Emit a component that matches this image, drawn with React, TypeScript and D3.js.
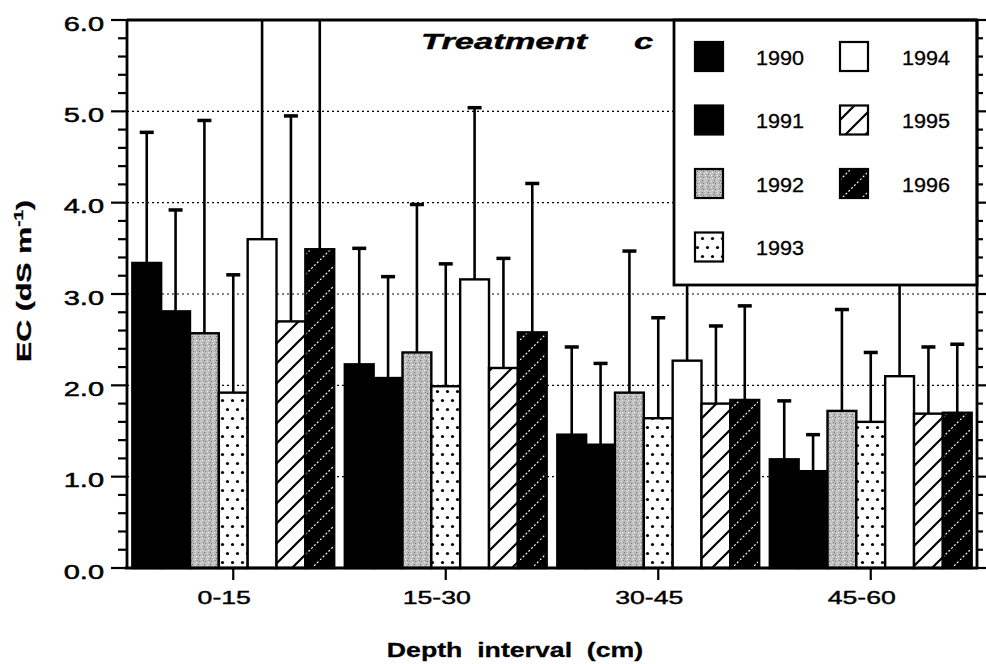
import * as d3 from 'd3';

const depths = ['0-15', '15-30', '30-45', '45-60'];
const years = ['1990', '1991', '1992', '1993', '1994', '1995', '1996'];

// mean EC (dS m-1) per depth interval, one array per year
const mean1990 = [3.34, 2.23, 1.46, 1.19];
const mean1991 = [2.81, 2.08, 1.35, 1.06];
const mean1992 = [2.57, 2.36, 1.92, 1.72];
const mean1993 = [1.92, 1.99, 1.64, 1.6];
const mean1994 = [3.6, 3.16, 2.27, 2.1];
const mean1995 = [2.7, 2.19, 1.8, 1.69];
const mean1996 = [3.49, 2.58, 1.84, 1.7];

// standard deviations (upper error bars)
const sd1990 = [1.43, 1.27, 0.96, 0.64];
const sd1991 = [1.11, 1.11, 0.89, 0.4];
const sd1992 = [2.33, 1.62, 1.55, 1.11];
const sd1993 = [1.29, 1.34, 1.1, 0.76];
const sd1994 = [2.8, 1.88, 1.5, 1.5];
const sd1995 = [2.25, 1.2, 0.85, 0.73];
const sd1996 = [2.7, 1.63, 1.03, 0.75];

const yMajor = [0, 1, 2, 3, 4, 5, 6];
const yGrid = [1, 2, 3, 4, 5];

const means = [mean1990, mean1991, mean1992, mean1993, mean1994, mean1995, mean1996];
const sds = [sd1990, sd1991, sd1992, sd1993, sd1994, sd1995, sd1996];

const fills: Record<string, string> = {
  '1990': '#000',
  '1991': '#000',
  '1992': 'url(#stipple)',
  '1993': 'url(#dots)',
  '1994': '#fff',
  '1995': 'url(#hatch)',
  '1996': 'url(#darkHatch)',
};

const W = 986;
const H = 664;
const L = 127;
const R = 977;
const T = 20;
const B = 568;
const FONT = '"Liberation Sans", Arial, Helvetica, sans-serif';

// text with a horizontal stretch, the scan's lettering is wide
function Txt({
  x,
  y,
  sx = 1,
  rotate = 0,
  anchor = 'start',
  size,
  weight = 'normal',
  italic = false,
  heavy = 0,
  children,
}: {
  x: number;
  y: number;
  sx?: number;
  rotate?: number;
  anchor?: string;
  size: number;
  weight?: string;
  italic?: boolean;
  heavy?: number;
  children: any;
}) {
  return (
    <text
      transform={`translate(${x},${y}) rotate(${rotate}) scale(${sx},1)`}
      textAnchor={anchor}
      fontSize={size}
      fontWeight={weight}
      fontStyle={italic ? 'italic' : 'normal'}
      fontFamily={FONT}
      fill="#000"
      stroke={heavy ? '#000' : 'none'}
      strokeWidth={heavy}
      style={{ whiteSpace: 'pre' }}
    >
      {children}
    </text>
  );
}

export default function App() {
  const x = d3.scaleBand<string>().domain(depths).range([L, R]).paddingInner(0.05).paddingOuter(0.025);
  const xi = d3.scaleBand<string>().domain(years).range([0, x.bandwidth()]);
  const y = d3.scaleLinear().domain([0, 6]).range([B, T]);
  const minor = d3.range(0, 6.001, 0.2).filter((v) => Math.abs(v - Math.round(v)) > 0.01);

  const rows = years.flatMap((yr, i) =>
    depths.map((d, j) => ({ yr, depth: d, mean: means[i][j], sd: sds[i][j] })),
  );

  const legendItems = years.map((yr, i) => ({
    yr,
    sx: i < 4 ? 695 : 840,
    tx: i < 4 ? 756 : 902,
    cy: 56.5 + (i % 4) * 63.5,
  }));

  return (
    <svg width={W} height={H} style={{ position: 'absolute', left: 0, top: 0, background: '#fff' }}>
      <defs>
        <pattern id="stipple" patternUnits="userSpaceOnUse" width={6} height={6}>
          <rect width={6} height={6} fill="#bcbcbc" />
          <rect x={0} y={0} width={1} height={1} fill="#6f6f6f" />
          <rect x={3} y={1} width={1} height={1} fill="#f0f0f0" />
          <rect x={1} y={3} width={1} height={1} fill="#777" />
          <rect x={4} y={4} width={1} height={1} fill="#f2f2f2" />
          <rect x={5} y={2} width={1} height={1} fill="#808080" />
          <rect x={2} y={5} width={1} height={1} fill="#e6e6e6" />
        </pattern>
        <pattern id="dots" patternUnits="userSpaceOnUse" width={10} height={18}>
          <rect width={10} height={18} fill="#fff" />
          <circle cx={2.5} cy={4.5} r={1.6} fill="#000" />
          <circle cx={7.5} cy={13.5} r={1.6} fill="#000" />
        </pattern>
        <pattern id="hatch" patternUnits="userSpaceOnUse" width={20} height={20}>
          <rect width={20} height={20} fill="#fff" />
          <path d="M0,20 L20,0 M-5,5 L5,-5 M15,25 L25,15" stroke="#000" strokeWidth={2.2} />
        </pattern>
        <pattern id="darkHatch" patternUnits="userSpaceOnUse" width={20} height={20}>
          <rect width={20} height={20} fill="#000" />
          <path
            d="M0,20 L20,0 M-5,5 L5,-5 M15,25 L25,15"
            stroke="#fff"
            strokeWidth={1.2}
            strokeDasharray="2,2"
          />
        </pattern>
        <clipPath id="plotClip">
          <rect x={L} y={T} width={R - L} height={B - T} />
        </clipPath>
      </defs>

      {/* gridlines */}
      {yGrid.map((v) => (
        <line key={v} x1={L} x2={R} y1={y(v)} y2={y(v)} stroke="#000" strokeWidth={1.2} strokeDasharray="2,3" />
      ))}

      {/* bars */}
      {rows.map((r) => {
        const bx = (x(r.depth) ?? 0) + (xi(r.yr) ?? 0);
        return (
          <rect
            key={`${r.yr}-${r.depth}`}
            x={bx}
            y={y(r.mean)}
            width={xi.bandwidth()}
            height={B - y(r.mean)}
            fill={fills[r.yr]}
            stroke="#000"
            strokeWidth={2.4}
          />
        );
      })}

      {/* error bars */}
      <g clipPath="url(#plotClip)">
        {rows.map((r) => {
          const cx = (x(r.depth) ?? 0) + (xi(r.yr) ?? 0) + xi.bandwidth() / 2;
          const top = y(r.mean + r.sd);
          return (
            <g key={`e-${r.yr}-${r.depth}`}>
              <line x1={cx} x2={cx} y1={y(r.mean)} y2={top} stroke="#000" strokeWidth={2.6} />
              <line x1={cx - 7} x2={cx + 7} y1={top} y2={top} stroke="#000" strokeWidth={3.5} />
            </g>
          );
        })}
      </g>

      {/* legend */}
      <rect x={674} y={T} width={R - 674} height={265} fill="#fff" stroke="#000" strokeWidth={2.8} />
      {legendItems.map((d) => (
        <g key={d.yr}>
          <rect x={d.sx} y={d.cy - 14.5} width={28} height={29} fill={fills[d.yr]} stroke="#000" strokeWidth={2.2} />
          <Txt x={d.tx} y={d.cy + 8} size={21} sx={1.03} heavy={0.3}>
            {d.yr}
          </Txt>
        </g>
      ))}

      {/* panel title */}
      <Txt x={421} y={49} size={23} sx={1.5} weight="bold" italic heavy={0.4}>
        Treatment
      </Txt>
      <Txt x={634} y={49} size={23} sx={1.5} weight="bold" italic heavy={0.4}>
        c
      </Txt>

      {/* frame */}
      <line x1={L} x2={R} y1={T} y2={T} stroke="#000" strokeWidth={2.8} />
      <line x1={R} x2={R} y1={T} y2={B} stroke="#000" strokeWidth={2.8} />
      <line x1={L - 2} x2={R + 1} y1={B} y2={B} stroke="#000" strokeWidth={3.2} />
      <line x1={L} x2={L} y1={T} y2={B} stroke="#000" strokeWidth={2.8} />

      {/* y ticks left and right */}
      {yMajor.map((v) => (
        <g key={`yt-${v}`}>
          <line x1={L - 16} x2={L} y1={y(v)} y2={y(v)} stroke="#000" strokeWidth={2.2} />
          <line x1={R} x2={R + 9} y1={y(v)} y2={y(v)} stroke="#000" strokeWidth={2.2} />
          <Txt x={104} y={y(v) + 10.5} size={21} sx={1.38} anchor="end" heavy={0.5}>
            {v.toFixed(1)}
          </Txt>
        </g>
      ))}
      {minor.map((v) => (
        <g key={`ym-${v.toFixed(1)}`}>
          <line x1={L - 9} x2={L} y1={y(v)} y2={y(v)} stroke="#000" strokeWidth={2.2} />
          <line x1={R} x2={R + 6} y1={y(v)} y2={y(v)} stroke="#000" strokeWidth={2.2} />
        </g>
      ))}

      {/* x ticks */}
      {depths.map((d) => {
        const cx = (x(d) ?? 0) + x.bandwidth() / 2;
        return (
          <g key={`xt-${d}`}>
            <line x1={cx} x2={cx} y1={B} y2={B + 12} stroke="#000" strokeWidth={2.2} />
            <Txt x={cx - 9} y={604} size={18} sx={1.48} anchor="middle" heavy={0.4}>
              {d}
            </Txt>
          </g>
        );
      })}

      {/* axis titles */}
      <Txt x={515} y={657} size={21} sx={1.27} weight="bold" anchor="middle" heavy={0.3}>
        {'Depth  interval  (cm)'}
      </Txt>
      <Txt x={31} y={281} size={21} sx={1.45} weight="bold" anchor="middle" rotate={-90} heavy={0.3}>
        EC (dS m
        <tspan fontSize={13} dy={-8}>
          -1
        </tspan>
        <tspan dy={8}>)</tspan>
      </Txt>
    </svg>
  );
}
